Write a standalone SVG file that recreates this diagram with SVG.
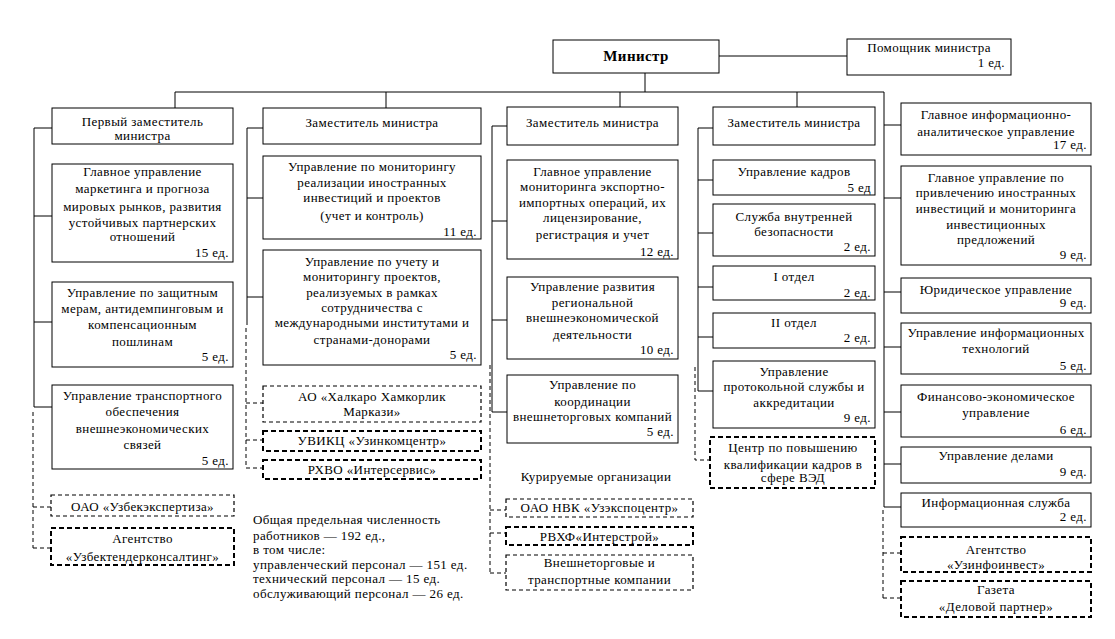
<svg xmlns="http://www.w3.org/2000/svg" width="1115" height="639" viewBox="0 0 1115 639">
<style>
.b{fill:#fff;stroke:#000;stroke-width:1}
.d{fill:#fff;stroke:#000;stroke-width:1.2;stroke-dasharray:4 3}
.dd{fill:#fff;stroke:#000;stroke-width:2;stroke-dasharray:5 3}
.c{fill:none;stroke:#000;stroke-width:1}
.cd{fill:none;stroke:#000;stroke-width:1;stroke-dasharray:4 3}
text{font-family:"Liberation Serif","Times New Roman",serif;font-size:13px;fill:#000;letter-spacing:0.4px}
.m{text-anchor:middle}
.r{text-anchor:end}
.s{text-anchor:start}
.bold{font-weight:bold;font-size:15px}
</style>
<rect width="1115" height="639" fill="#fff"/>
<g id="connectors">
<path class="c" d="M719 56H847M645 73V92M175 92H884M175 92V108M386 92V108M620 92V107M797 92V107"/>
<path class="c" d="M34 128H52M34 128V407M34 216H52M34 322H52M34 407H52"/>
<path class="cd" d="M33 412V548M33 507H51M33 548H51"/>
<path class="c" d="M247 128H263M247 128V325M247 198H263M247 297H263"/>
<path class="cd" d="M246 328V468M246 403H263M246 440H263M246 468H263"/>
<path class="c" d="M492 126H507M492 126V412M492 221H507M492 320H507M492 412H507"/>
<path class="cd" d="M490 365V573M490 510H506M490 533H506M490 573H506"/>
<path class="c" d="M698 128H713M698 128V391M698 180H713M698 233H713M698 287H713M698 337H713M698 391H713"/>
<path class="cd" d="M695 367V460H710"/>
<path class="c" d="M884 92V507M884 125H901M884 198H901M884 292H901M884 347H901M884 412H901M884 464H901M884 507H901"/>
<path class="cd" d="M883 510V598M883 553H901M883 598H901"/>
</g>
<g id="minister"><rect class="b" x="553" y="40" width="166" height="33"/><text class="m bold" x="636" y="61">Министр</text></g>
<g id="assistant"><rect class="b" x="847" y="39" width="164" height="36"/><text class="m" x="929" y="52">Помощник министра</text><text class="r" x="1005" y="67">1 ед.</text></g>

<g id="dep1"><rect class="b" x="52" y="108" width="181" height="36"/><text class="m" x="142.5" y="126">Первый заместитель</text><text class="m" x="142.5" y="140">министра</text></g>
<g id="c1b1"><rect class="b" x="52" y="164" width="181" height="98"/><text class="m" x="142.5" y="176">Главное управление</text><text class="m" x="142.5" y="193">маркетинга и прогноза</text><text class="m" x="142.5" y="211">мировых рынков, развития</text><text class="m" x="142.5" y="227">устойчивых партнерских</text><text class="m" x="142.5" y="241">отношений</text><text class="r" x="229" y="257">15 ед.</text></g>
<g id="c1b2"><rect class="b" x="52" y="282" width="181" height="85"/><text class="m" x="142.5" y="297">Управление по защитным</text><text class="m" x="142.5" y="313">мерам, антидемпинговым и</text><text class="m" x="142.5" y="329">компенсационным</text><text class="m" x="142.5" y="346">пошлинам</text><text class="r" x="229" y="361">5 ед.</text></g>
<g id="c1b3"><rect class="b" x="52" y="385" width="181" height="84"/><text class="m" x="142.5" y="400">Управление транспортного</text><text class="m" x="142.5" y="416">обеспечения</text><text class="m" x="142.5" y="433">внешнеэкономических</text><text class="m" x="142.5" y="449">связей</text><text class="r" x="229" y="465">5 ед.</text></g>
<g id="c1d1"><rect class="d" x="51" y="495" width="183" height="21"/><text class="m" x="142.5" y="511">ОАО «Узбекэкспертиза»</text></g>
<g id="c1d2"><rect class="dd" x="51" y="528" width="183" height="37"/><text class="m" x="142.5" y="543">Агентство</text><text class="m" x="142.5" y="561">«Узбектендерконсалтинг»</text></g>

<g id="note"><text class="s" x="253" y="524">Общая предельная численность</text><text class="s" x="253" y="540">работников — 192 ед.,</text><text class="s" x="253" y="554">в том числе:</text><text class="s" x="253" y="569">управленческий персонал — 151 ед.</text><text class="s" x="253" y="583">технический персонал — 15 ед.</text><text class="s" x="253" y="598">обслуживающий персонал — 26 ед.</text></g>

<g id="dep2"><rect class="b" x="263" y="108" width="218" height="36"/><text class="m" x="372" y="127">Заместитель министра</text></g>
<g id="c2b1"><rect class="b" x="263" y="156" width="218" height="83"/><text class="m" x="372" y="171">Управление по мониторингу</text><text class="m" x="372" y="187">реализации иностранных</text><text class="m" x="372" y="202">инвестиций и проектов</text><text class="m" x="372" y="220">(учет и контроль)</text><text class="r" x="477" y="236">11 ед.</text></g>
<g id="c2b2"><rect class="b" x="263" y="250" width="218" height="115"/><text class="m" x="372" y="266">Управление по учету и</text><text class="m" x="372" y="281">мониторингу проектов,</text><text class="m" x="372" y="297">реализуемых в рамках</text><text class="m" x="372" y="312">сотрудничества с</text><text class="m" x="372" y="327">международными институтами и</text><text class="m" x="372" y="344">странами-донорами</text><text class="r" x="477" y="359">5 ед.</text></g>
<g id="c2d1"><rect class="d" x="263" y="386" width="218" height="36"/><text class="m" x="372" y="401">АО «Халкаро Хамкорлик</text><text class="m" x="372" y="416">Маркази»</text></g>
<g id="c2d2"><rect class="dd" x="263" y="431" width="218" height="20"/><text class="m" x="372" y="445">УВИКЦ «Узинкомцентр»</text></g>
<g id="c2d3"><rect class="dd" x="263" y="460" width="218" height="19"/><text class="m" x="372" y="474">РХВО «Интерсервис»</text></g>

<g id="dep3"><rect class="b" x="507" y="107" width="171" height="38"/><text class="m" x="592.5" y="127">Заместитель министра</text></g>
<g id="c3b1"><rect class="b" x="507" y="160" width="171" height="99"/><text class="m" x="592.5" y="176">Главное управление</text><text class="m" x="592.5" y="191">мониторинга экспортно-</text><text class="m" x="592.5" y="207">импортных операций, их</text><text class="m" x="592.5" y="222">лицензирование,</text><text class="m" x="592.5" y="239">регистрация и учет</text><text class="r" x="674" y="256">12 ед.</text></g>
<g id="c3b2"><rect class="b" x="507" y="277" width="171" height="82"/><text class="m" x="592.5" y="291">Управление развития</text><text class="m" x="592.5" y="307">региональной</text><text class="m" x="592.5" y="322">внешнеэкономической</text><text class="m" x="592.5" y="339">деятельности</text><text class="r" x="674" y="354">10 ед.</text></g>
<g id="c3b3"><rect class="b" x="507" y="375" width="171" height="68"/><text class="m" x="592.5" y="389">Управление по</text><text class="m" x="592.5" y="406">координации</text><text class="m" x="592.5" y="421">внешнеторговых компаний</text><text class="r" x="674" y="436">5 ед.</text></g>
<text id="kur" class="m" x="596" y="481">Курируемые организации</text>
<g id="c3d1"><rect class="d" x="506" y="499" width="187" height="18"/><text class="m" x="599.5" y="512">ОАО НВК «Узэкспоцентр»</text></g>
<g id="c3d2"><rect class="dd" x="506" y="527" width="187" height="18"/><text class="m" x="599.5" y="541">РВХФ«Интерстрой»</text></g>
<g id="c3d3"><rect class="d" x="506" y="555" width="187" height="35"/><text class="m" x="599.5" y="567">Внешнеторговые и</text><text class="m" x="599.5" y="584">транспортные компании</text></g>

<g id="dep4"><rect class="b" x="713" y="107" width="162" height="38"/><text class="m" x="794" y="127">Заместитель министра</text></g>
<g id="c4b1"><rect class="b" x="713" y="160" width="162" height="35"/><text class="m" x="794" y="176">Управление кадров</text><text class="r" x="871" y="192">5 ед</text></g>
<g id="c4b2"><rect class="b" x="713" y="204" width="162" height="52"/><text class="m" x="794" y="221">Служба внутренней</text><text class="m" x="794" y="236">безопасности</text><text class="r" x="871" y="251">2 ед.</text></g>
<g id="c4b3"><rect class="b" x="713" y="266" width="162" height="34"/><text class="m" x="794" y="281">I отдел</text><text class="r" x="871" y="297">2 ед.</text></g>
<g id="c4b4"><rect class="b" x="713" y="313" width="162" height="35"/><text class="m" x="794" y="327">II отдел</text><text class="r" x="871" y="342">2 ед.</text></g>
<g id="c4b5"><rect class="b" x="713" y="361" width="162" height="67"/><text class="m" x="794" y="376">Управление</text><text class="m" x="794" y="391">протокольной службы и</text><text class="m" x="794" y="407">аккредитации</text><text class="r" x="871" y="422">9 ед.</text></g>
<g id="c4d1"><rect class="dd" x="710" y="437" width="165" height="51"/><text class="m" x="793" y="452">Центр по повышению</text><text class="m" x="793" y="469">квалификации кадров в</text><text class="m" x="793" y="482">сфере ВЭД</text></g>

<g id="c5b1"><rect class="b" x="901" y="103" width="190" height="52"/><text class="m" x="996" y="119">Главное информационно-</text><text class="m" x="996" y="136">аналитическое управление</text><text class="r" x="1087" y="149">17 ед.</text></g>
<g id="c5b2"><rect class="b" x="901" y="166" width="190" height="99"/><text class="m" x="996" y="182">Главное управление по</text><text class="m" x="996" y="197">привлечению иностранных</text><text class="m" x="996" y="213">инвестиций и мониторинга</text><text class="m" x="996" y="229">инвестиционных</text><text class="m" x="996" y="244">предложений</text><text class="r" x="1087" y="259">9 ед.</text></g>
<g id="c5b3"><rect class="b" x="901" y="278" width="190" height="35"/><text class="m" x="996" y="294">Юридическое управление</text><text class="r" x="1087" y="307">9 ед.</text></g>
<g id="c5b4"><rect class="b" x="901" y="323" width="190" height="51"/><text class="m" x="996" y="337">Управление информационных</text><text class="m" x="996" y="353">технологий</text><text class="r" x="1087" y="370">5 ед.</text></g>
<g id="c5b5"><rect class="b" x="901" y="385" width="190" height="52"/><text class="m" x="996" y="401">Финансово-экономическое</text><text class="m" x="996" y="417">управление</text><text class="r" x="1087" y="434">6 ед.</text></g>
<g id="c5b6"><rect class="b" x="901" y="447" width="190" height="36"/><text class="m" x="996" y="460">Управление делами</text><text class="r" x="1087" y="476">9 ед.</text></g>
<g id="c5b7"><rect class="b" x="901" y="493" width="190" height="34"/><text class="m" x="996" y="507">Информационная служба</text><text class="r" x="1087" y="521">2 ед.</text></g>
<g id="c5d1"><rect class="dd" x="901" y="537" width="190" height="35"/><text class="m" x="996" y="554">Агентство</text><text class="m" x="996" y="569">«Узинфоинвест»</text></g>
<g id="c5d2"><rect class="dd" x="901" y="581" width="190" height="36"/><text class="m" x="996" y="594">Газета</text><text class="m" x="996" y="611">«Деловой партнер»</text></g>
</svg>
